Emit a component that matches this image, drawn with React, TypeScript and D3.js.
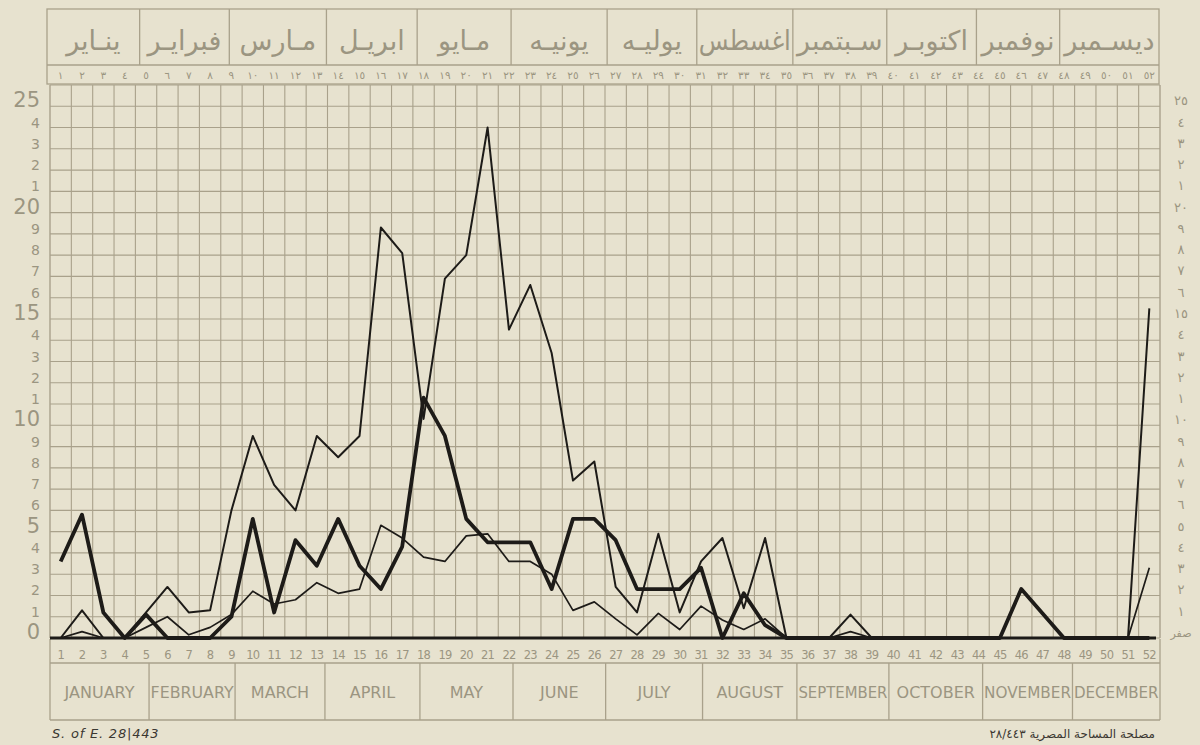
import React, { useEffect, useRef } from 'react';
import * as d3 from 'd3';

// ---------- DATA ----------
const weeks: number[] = d3.range(1, 53);

// thin line with the two large spring peaks
const seriesThin: number[] = [
  0, 1.3, 0, 0, 1.2, 2.4, 1.2, 1.3, 6.0, 9.5,
  7.2, 6.0, 9.5, 8.5, 9.5, 19.3, 18.1, 10.3, 16.9, 18.0,
  24.0, 14.5, 16.6, 13.4, 7.4, 8.3, 2.4, 1.2, 4.9, 1.2,
  3.6, 4.7, 1.4, 4.7, 0, 0, 0, 1.1, 0, 0,
  0, 0, 0, 0, 0, 0, 0, 0, 0, 0,
  0, 15.5,
];

// thin low line
const seriesLow: number[] = [
  0, 0.3, 0, 0, 0.5, 1.0, 0.15, 0.5, 1.1, 2.2,
  1.6, 1.8, 2.6, 2.1, 2.3, 5.3, 4.7, 3.8, 3.6, 4.8,
  4.9, 3.6, 3.6, 3.0, 1.3, 1.7, 0.9, 0.15, 1.16, 0.4,
  1.5, 0.85, 0.4, 0.9, 0, 0, 0, 0.3, 0, 0,
  0, 0, 0, 0, 0, 0, 0, 0, 0, 0,
  0, 3.3,
];

// thick line
const seriesThick: number[] = [
  3.6, 5.8, 1.2, 0, 1.1, 0, 0, 0, 1.0, 5.6,
  1.2, 4.6, 3.4, 5.6, 3.4, 2.3, 4.3, 11.3, 9.5, 5.6,
  4.5, 4.5, 4.5, 2.3, 5.6, 5.6, 4.6, 2.3, 2.3, 2.3,
  3.3, 0, 2.1, 0.6, 0, 0, 0, 0, 0, 0,
  0, 0, 0, 0, 0, 2.3, 1.15, 0, 0, 0,
  0, 0,
];

const monthsEn: string[] = [
  'JANUARY', 'FEBRUARY', 'MARCH', 'APRIL', 'MAY', 'JUNE',
  'JULY', 'AUGUST', 'SEPTEMBER', 'OCTOBER', 'NOVEMBER', 'DECEMBER',
];
const monthsAr: string[] = [
  'ينـاير', 'فبرايـر', 'مـارس', 'ابريـل', 'مـايو', 'يونيـه',
  'يوليـه', 'اغسطس', 'سـبتمبر', 'اكتوبـر', 'نوفمبر', 'ديسـمبر',
];
// month boundaries measured in weeks (header row and footer row)
const topMonthEdges: number[] = [0, 4.2, 8.4, 12.95, 17.2, 21.6, 26.1, 30.3, 34.8, 39.2, 43.4, 47.3, 52];
const bottomMonthEdges: number[] = [0, 4.64, 8.67, 12.88, 17.33, 21.69, 26.03, 30.57, 34.99, 39.3, 43.69, 47.9, 52];

const yTicks: number[] = d3.range(0, 26);
const yMax = 26;

const footLeft = 'S. of E.  28|443';
const footRight = 'مصلحة المساحة المصرية ٢٨/٤٤٣';
const zeroAr = 'صفر';

const arDigits = '٠١٢٣٤٥٦٧٨٩';
const toAr = (s: string) => s.replace(/[0-9]/g, (c) => arDigits[+c]);

// ---------- STYLE ----------
const PAPER = '#e7e2cf';
const GRID = '#a9a18b';
const TEXT = '#9b9581';
const INK = '#1d1b18';

export default function App() {
  const ref = useRef<SVGSVGElement | null>(null);

  useEffect(() => {
    const svg = d3.select(ref.current);
    svg.selectAll('*').remove();

    const x = d3.scaleLinear().domain([0, 52]).range([50, 1160]);
    const y = d3.scaleLinear().domain([0, yMax]).range([638, 85]);

    svg.append('rect').attr('width', 1200).attr('height', 745).attr('fill', PAPER);

    const g = svg.append('g');

    // ---- header ----
    const hTop = 9, hMid = 65, hBot = 84;
    const hx0 = 47, hx1 = 1159;
    g.append('rect').attr('x', hx0).attr('y', hTop).attr('width', hx1 - hx0).attr('height', hBot - hTop)
      .attr('fill', 'none').attr('stroke', GRID).attr('stroke-width', 1.3);
    g.append('line').attr('x1', hx0).attr('x2', hx1).attr('y1', hMid).attr('y2', hMid)
      .attr('stroke', GRID).attr('stroke-width', 1.3);
    topMonthEdges.slice(1, -1).forEach((w) => {
      g.append('line').attr('x1', x(w)).attr('x2', x(w)).attr('y1', hTop).attr('y2', hMid)
        .attr('stroke', GRID).attr('stroke-width', 1.3);
    });
    monthsAr.forEach((m, i) => {
      const a = i === 0 ? hx0 : x(topMonthEdges[i]);
      const b = i === 11 ? hx1 : x(topMonthEdges[i + 1]);
      const t = g.append('text').attr('x', (a + b) / 2).attr('y', 50)
        .attr('text-anchor', 'middle').attr('font-family', 'DejaVu Sans, sans-serif')
        .attr('font-size', 27).attr('fill', TEXT).text(m);
      const node = t.node() as SVGTextElement;
      const avail = b - a - 4;
      if (node && node.getComputedTextLength() > avail) {
        t.attr('textLength', avail).attr('lengthAdjust', 'spacingAndGlyphs');
      }
    });
    weeks.forEach((w) => {
      g.append('text').attr('x', x(w - 0.5)).attr('y', 79)
        .attr('text-anchor', 'middle').attr('font-family', 'DejaVu Sans, sans-serif')
        .attr('font-size', 10.5).attr('fill', TEXT).text(toAr(String(w)));
    });

    // ---- grid ----
    d3.range(0, 53).forEach((k) => {
      g.append('line').attr('x1', x(k)).attr('x2', x(k)).attr('y1', y(yMax)).attr('y2', y(0))
        .attr('stroke', GRID).attr('stroke-width', k === 0 || k === 52 ? 1.4 : 1.1);
    });
    d3.range(0, yMax + 1).forEach((v) => {
      g.append('line').attr('x1', x(0)).attr('x2', x(52)).attr('y1', y(v)).attr('y2', y(v))
        .attr('stroke', GRID).attr('stroke-width', 1.1);
    });

    // ---- y labels ----
    yTicks.forEach((v) => {
      const major = v % 5 === 0;
      g.append('text').attr('x', 40).attr('y', y(v) + (major ? 1 : 0))
        .attr('text-anchor', 'end').attr('font-family', 'DejaVu Sans, sans-serif')
        .attr('font-size', major ? 21 : 14).attr('fill', TEXT)
        .text(major ? String(v) : String(v % 10));
      const label = v === 0 ? zeroAr : major ? toAr(String(v)) : toAr(String(v % 10));
      g.append('text').attr('x', 1181).attr('y', y(v) - 1)
        .attr('text-anchor', 'middle').attr('font-family', 'DejaVu Sans, sans-serif')
        .attr('font-size', v === 0 ? 11 : 13).attr('fill', TEXT)
        .attr('letter-spacing', major && v !== 0 ? 5 : 0)
        .text(label);
    });

    // ---- footer rows ----
    const fTop = 639, fMid = 663, fBot = 720;
    g.append('line').attr('x1', x(0)).attr('x2', x(0)).attr('y1', fTop).attr('y2', fBot)
      .attr('stroke', GRID).attr('stroke-width', 1.3);
    g.append('line').attr('x1', x(52)).attr('x2', x(52)).attr('y1', fTop).attr('y2', fBot)
      .attr('stroke', GRID).attr('stroke-width', 1.3);
    [fMid, fBot].forEach((yy) => {
      g.append('line').attr('x1', x(0)).attr('x2', x(52)).attr('y1', yy).attr('y2', yy)
        .attr('stroke', GRID).attr('stroke-width', 1.3);
    });
    bottomMonthEdges.slice(1, -1).forEach((w) => {
      g.append('line').attr('x1', x(w)).attr('x2', x(w)).attr('y1', fMid).attr('y2', fBot)
        .attr('stroke', GRID).attr('stroke-width', 1.3);
    });
    weeks.forEach((w) => {
      g.append('text').attr('x', x(w - 0.5)).attr('y', 659)
        .attr('text-anchor', 'middle').attr('font-family', 'DejaVu Sans, sans-serif')
        .attr('font-size', 11.5).attr('fill', TEXT).attr('letter-spacing', -0.8)
        .text(String(w));
    });
    monthsEn.forEach((m, i) => {
      const a = x(bottomMonthEdges[i]);
      const b = x(bottomMonthEdges[i + 1]);
      const t = g.append('text').attr('x', (a + b) / 2).attr('y', 698)
        .attr('text-anchor', 'middle').attr('font-family', 'DejaVu Sans, sans-serif')
        .attr('font-size', 16).attr('fill', TEXT).text(m);
      const node = t.node() as SVGTextElement;
      const avail = b - a - 3;
      if (node && node.getComputedTextLength() > avail) {
        t.attr('textLength', avail).attr('lengthAdjust', 'spacingAndGlyphs');
      }
    });

    // ---- series ----
    const line = d3.line<number>()
      .x((_, i) => x(weeks[i] - 0.5))
      .y((d) => y(d));

    g.append('path').datum(seriesLow).attr('d', line).attr('fill', 'none')
      .attr('stroke', INK).attr('stroke-width', 1.7).attr('stroke-linejoin', 'round');
    g.append('path').datum(seriesThin).attr('d', line).attr('fill', 'none')
      .attr('stroke', INK).attr('stroke-width', 2).attr('stroke-linejoin', 'round');
    g.append('path').datum(seriesThick).attr('d', line).attr('fill', 'none')
      .attr('stroke', INK).attr('stroke-width', 3.8).attr('stroke-linejoin', 'round');

    // heavy zero base line
    g.append('line').attr('x1', x(0)).attr('x2', x(52) - 4).attr('y1', y(0)).attr('y2', y(0))
      .attr('stroke', INK).attr('stroke-width', 3.2);

    // ---- foot notes ----
    g.append('text').attr('x', 52).attr('y', 738)
      .attr('font-family', 'DejaVu Sans, sans-serif').attr('font-style', 'italic')
      .attr('font-size', 13).attr('letter-spacing', 0.8).attr('fill', '#3a3731').text(footLeft);
    g.append('text').attr('x', 1155).attr('y', 738).attr('text-anchor', 'end')
      .attr('font-family', 'DejaVu Sans, sans-serif')
      .attr('font-size', 12).attr('fill', '#3a3731').text(footRight);
  }, []);

  return (
    <div style={{ position: 'absolute', left: 0, top: 0, width: 1200, height: 745 }}>
      <svg ref={ref} width={1200} height={745} style={{ display: 'block' }} />
    </div>
  );
}
